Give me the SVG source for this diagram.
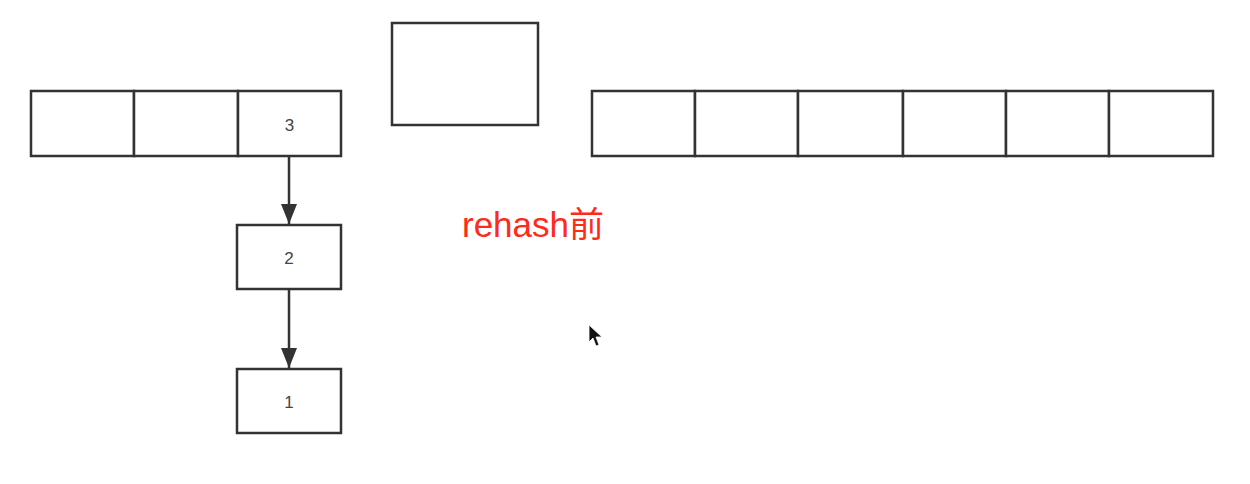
<svg xmlns="http://www.w3.org/2000/svg" width="1250" height="484" viewBox="0 0 1250 484">
<defs>
<style>
.box{fill:#fff;stroke:#333;stroke-width:2.5}
.lbl{font-family:"Liberation Sans",Arial,sans-serif;font-size:17px;fill:#444;text-anchor:middle}
.edge{stroke:#333;stroke-width:2.5;fill:none}
</style>
<marker id="ah2" markerWidth="20" markerHeight="16" refX="20" refY="8" orient="auto" markerUnits="userSpaceOnUse" viewBox="0 0 20 16">
<path d="M0,0 L20,8 L0,16 Z" fill="#333"/>
</marker>
</defs>
<rect width="1250" height="484" fill="#fff"/>
<g id="old-table">
<rect class="box" x="31" y="91" width="103" height="65"/>
<rect class="box" x="134" y="91" width="104" height="65"/>
<rect class="box" x="238" y="91" width="103" height="65"/>
<text class="lbl" x="289.5" y="131">3</text>
</g>
<g id="node2">
<rect class="box" x="237" y="225" width="104" height="64"/>
<text class="lbl" x="289" y="264">2</text>
</g>
<g id="node1">
<rect class="box" x="237" y="369" width="104" height="64"/>
<text class="lbl" x="289" y="408">1</text>
</g>
<g id="middle-box">
<rect class="box" x="392" y="23" width="146" height="102"/>
</g>
<g id="new-table">
<rect class="box" x="592" y="91" width="103" height="65"/>
<rect class="box" x="695" y="91" width="103" height="65"/>
<rect class="box" x="798" y="91" width="105" height="65"/>
<rect class="box" x="903" y="91" width="103" height="65"/>
<rect class="box" x="1006" y="91" width="103" height="65"/>
<rect class="box" x="1109" y="91" width="104" height="65"/>
</g>
<g id="connectors">
<line class="edge" x1="289" y1="156" x2="289" y2="224" marker-end="url(#ah2)"/>
<line class="edge" x1="289" y1="289" x2="289" y2="368" marker-end="url(#ah2)"/>
</g>
<text x="462" y="237" font-family="'Liberation Sans','Noto Sans CJK SC',sans-serif" font-size="35" fill="#ff2a1a">rehash前</text>
<path d="M589,325 L589,342 L593,338 L596,346 L599,345 L596,337 L602,337 Z" fill="#111" stroke="#fff" stroke-width="0.8"/>
</svg>
